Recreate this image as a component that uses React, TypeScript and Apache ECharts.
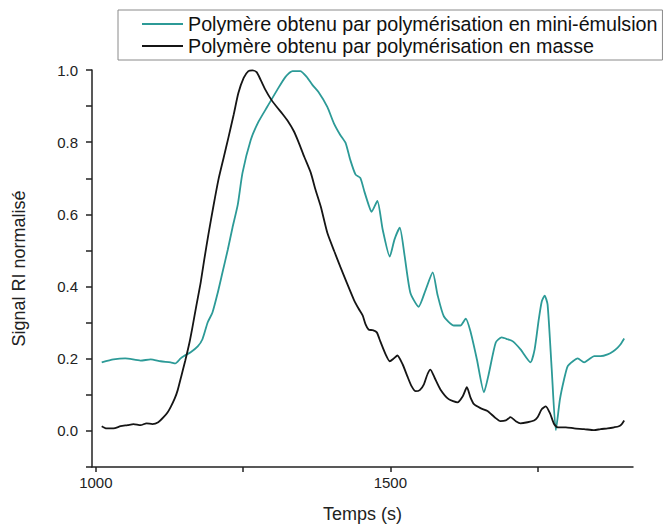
import React, { useEffect, useRef } from "react";
import * as echarts from "echarts";

const seriesNames = [
  "Polymère obtenu par polymérisation en mini-émulsion",
  "Polymère obtenu par polymérisation en masse",
];

const miniTime = [1010, 1030, 1050, 1076, 1093, 1110, 1127, 1135, 1144, 1149, 1161, 1173, 1181, 1190, 1198, 1207, 1215, 1224, 1232, 1241, 1249, 1263, 1276, 1291, 1308, 1322, 1334, 1347, 1358, 1368, 1378, 1393, 1404, 1415, 1424, 1432, 1441, 1449, 1456, 1463, 1468, 1478, 1487, 1499, 1507, 1516, 1524, 1534, 1548, 1560, 1572, 1580, 1591, 1608, 1619, 1628, 1636, 1647, 1659, 1667, 1679, 1689, 1699, 1708, 1721, 1738, 1745, 1752, 1757, 1762, 1767, 1774, 1781, 1788, 1795, 1801, 1810, 1818, 1829, 1837, 1846, 1857, 1869, 1878, 1886, 1891, 1897];
const miniSignal = [0.19, 0.198, 0.201, 0.195, 0.198, 0.193, 0.19, 0.187, 0.201, 0.207, 0.218, 0.234, 0.254, 0.301, 0.328, 0.383, 0.439, 0.502, 0.563, 0.627, 0.715, 0.806, 0.856, 0.898, 0.945, 0.981, 0.997, 0.997, 0.981, 0.958, 0.939, 0.898, 0.853, 0.82, 0.798, 0.751, 0.71, 0.701, 0.663, 0.627, 0.607, 0.637, 0.558, 0.483, 0.53, 0.563, 0.488, 0.383, 0.344, 0.391, 0.439, 0.378, 0.317, 0.292, 0.292, 0.311, 0.276, 0.198, 0.107, 0.157, 0.245, 0.259, 0.254, 0.248, 0.226, 0.19, 0.226, 0.309, 0.358, 0.375, 0.35, 0.171, 0.002, 0.088, 0.143, 0.179, 0.193, 0.201, 0.19, 0.198, 0.207, 0.207, 0.212, 0.22, 0.231, 0.24, 0.256];

const masseTime = [1010, 1018, 1030, 1042, 1054, 1064, 1076, 1086, 1096, 1106, 1115, 1122, 1127, 1134, 1139, 1145, 1152, 1159, 1164, 1171, 1178, 1184, 1191, 1200, 1208, 1217, 1225, 1234, 1242, 1251, 1259, 1266, 1273, 1280, 1288, 1297, 1307, 1317, 1327, 1336, 1344, 1354, 1365, 1373, 1382, 1393, 1405, 1415, 1426, 1438, 1446, 1453, 1458, 1463, 1470, 1477, 1483, 1492, 1499, 1506, 1512, 1521, 1529, 1536, 1543, 1550, 1557, 1563, 1568, 1575, 1585, 1599, 1614, 1623, 1630, 1636, 1642, 1653, 1665, 1677, 1687, 1696, 1704, 1713, 1721, 1733, 1744, 1750, 1757, 1764, 1771, 1778, 1784, 1798, 1812, 1829, 1846, 1857, 1869, 1880, 1888, 1893, 1897];
const masseSignal = [0.013, 0.007, 0.007, 0.013, 0.016, 0.019, 0.016, 0.021, 0.019, 0.024, 0.038, 0.052, 0.066, 0.09, 0.113, 0.151, 0.196, 0.245, 0.287, 0.35, 0.411, 0.474, 0.543, 0.626, 0.695, 0.757, 0.812, 0.876, 0.936, 0.978, 0.997, 0.999, 0.994, 0.972, 0.945, 0.92, 0.898, 0.878, 0.856, 0.831, 0.801, 0.759, 0.715, 0.668, 0.621, 0.549, 0.497, 0.455, 0.411, 0.364, 0.339, 0.32, 0.295, 0.281, 0.279, 0.273, 0.248, 0.212, 0.193, 0.201, 0.209, 0.184, 0.151, 0.124, 0.11, 0.113, 0.129, 0.157, 0.17, 0.148, 0.115, 0.088, 0.079, 0.096, 0.121, 0.093, 0.074, 0.063, 0.055, 0.038, 0.027, 0.029, 0.038, 0.027, 0.021, 0.024, 0.029, 0.038, 0.06, 0.068, 0.049, 0.019, 0.01, 0.01, 0.007, 0.005, 0.002, 0.005, 0.007, 0.01, 0.013, 0.019, 0.029];

const xRange = [993.5, 1912];
const xMajorTicks = [1000, 1250, 1500, 1750];
const xTickLabels = [1000, 1500];
const yRange = [-0.1, 1.0];
const yTickStep = 0.1;

const TEAL = "#2c9a97";
const BLACK = "#151515";
const AXIS = "#222";

export default function App() {
  const ref = useRef<HTMLDivElement>(null);
  useEffect(() => {
    if (!ref.current) return;
    const chart = echarts.init(ref.current, null, { renderer: "svg" });
    const pair = (t: number[], v: number[]) => t.map((x, i) => [x, v[i]]);
    chart.setOption({
      animation: false,
      textStyle: { fontFamily: "Liberation Sans, Arial, sans-serif" },
      grid: { left: 92, right: 33, top: 70, bottom: 60 },
      legend: {
        orient: "vertical",
        left: 118,
        top: 10,
        padding: [4, 5, 4, 24],
        icon: "rect",
        itemWidth: 41,
        itemHeight: 2,
        itemGap: 2,
        borderColor: "#8a8a8a",
        borderWidth: 1,
        textStyle: { fontSize: 19.7, lineHeight: 20, color: "#111", fontFamily: "Liberation Sans, Arial, sans-serif" },
        data: seriesNames,
      },
      xAxis: {
        type: "value",
        min: xRange[0],
        max: xRange[1],
        name: "Temps (s)",
        nameLocation: "middle",
        nameGap: 38,
        nameTextStyle: { fontSize: 18, color: "#222" },
        axisLine: { show: true, onZero: false, lineStyle: { color: AXIS, width: 1.5 } },
        axisTick: { show: true, length: 5, inside: false, customValues: xMajorTicks, lineStyle: { color: AXIS, width: 1.5 } },
        axisLabel: { customValues: xTickLabels, fontSize: 15, color: "#222", margin: 8, formatter: (v: number) => String(v) },
        splitLine: { show: false },
      },
      yAxis: {
        type: "value",
        min: yRange[0],
        max: yRange[1],
        interval: yTickStep,
        name: "Signal RI normalisé",
        nameLocation: "middle",
        nameGap: 64,
        nameTextStyle: { fontSize: 18, color: "#222" },
        axisLine: { show: true, onZero: false, lineStyle: { color: AXIS, width: 1.5 } },
        axisTick: { show: true, length: 6, inside: false, lineStyle: { color: AXIS, width: 1.5 } },
        axisLabel: {
          fontSize: 15,
          color: "#222",
          margin: 14,
          formatter: (v: number) => {
            const k = Math.round(v * 10);
            return k >= 0 && k % 2 === 0 ? (k / 10).toFixed(1) : "";
          },
        },
        splitLine: { show: false },
      },
      series: [
        {
          name: seriesNames[0],
          type: "line",
          symbol: "none",
          smooth: 0.2,
          data: pair(miniTime, miniSignal),
          lineStyle: { color: TEAL, width: 1.8 },
          itemStyle: { color: TEAL },
          z: 2,
        },
        {
          name: seriesNames[1],
          type: "line",
          symbol: "none",
          smooth: 0.2,
          data: pair(masseTime, masseSignal),
          lineStyle: { color: BLACK, width: 1.8 },
          itemStyle: { color: BLACK },
          z: 3,
        },
      ],
    });
    return () => chart.dispose();
  }, []);
  return <div ref={ref} style={{ width: 666, height: 528, position: "absolute", left: 0, top: 0 }} />;
}
